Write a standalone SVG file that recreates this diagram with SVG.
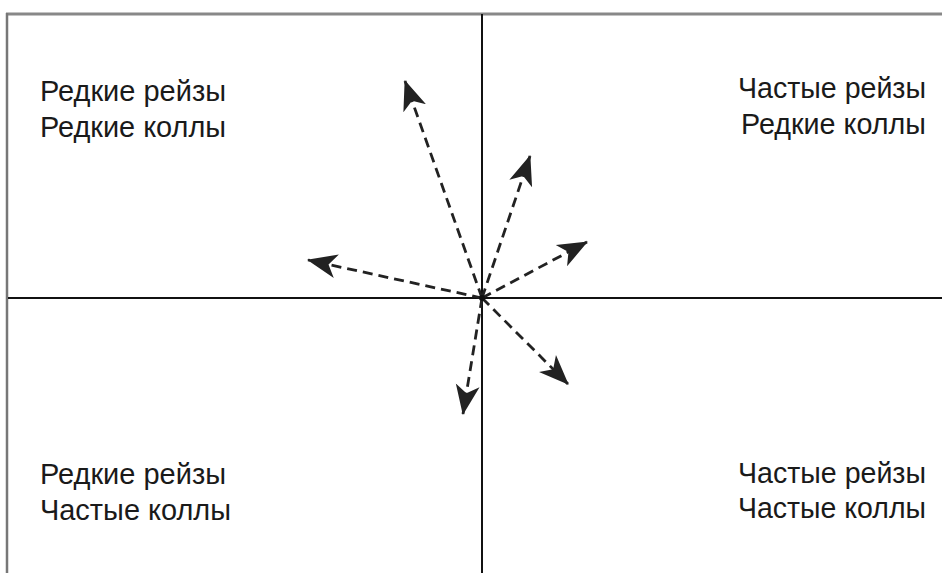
<svg xmlns="http://www.w3.org/2000/svg" width="942" height="573" viewBox="0 0 942 573">
<style>
.lbl{font-family:"Liberation Sans",Arial,sans-serif;font-size:29.5px;fill:#1a1a1a}
.r{text-anchor:end}
.ax{stroke:#111;stroke-width:2;fill:none}
.arr{stroke:#222;stroke-width:2.8;stroke-dasharray:10 6;fill:none;marker-end:url(#ah)}
</style>
<defs>
<marker id="ah" viewBox="0 0 30 26" refX="29" refY="13" markerWidth="30" markerHeight="26" markerUnits="userSpaceOnUse" orient="auto">
<path d="M0,1 L30,13 L0,25 L8,13 Z" fill="#222"/>
</marker>
</defs>
<rect width="942" height="573" fill="#fff"/>
<g id="frame">
<line x1="6" y1="14" x2="942" y2="14" stroke="#888" stroke-width="3"/>
<line x1="7" y1="13" x2="7" y2="573" stroke="#777" stroke-width="2.5"/>
</g>
<g id="axes">
<line class="ax" x1="482" y1="14" x2="482" y2="573"/>
<line class="ax" x1="8" y1="298" x2="942" y2="298"/>
</g>
<g id="connectors">
<line class="arr" x1="482" y1="298" x2="405" y2="81"/>
<line class="arr" x1="482" y1="298" x2="530" y2="156"/>
<line class="arr" x1="482" y1="298" x2="587" y2="242"/>
<line class="arr" x1="482" y1="298" x2="308" y2="260"/>
<line class="arr" x1="482" y1="298" x2="568" y2="384"/>
<line class="arr" x1="482" y1="298" x2="463" y2="414"/>
</g>
<circle cx="482" cy="298" r="3" fill="#111"/>
<g id="q1">
<text class="lbl" x="40" y="101" textLength="186" lengthAdjust="spacingAndGlyphs">Редкие рейзы</text>
<text class="lbl" x="40" y="137" textLength="186" lengthAdjust="spacingAndGlyphs">Редкие коллы</text>
</g>
<g id="q2">
<text class="lbl" x="738" y="98" textLength="188" lengthAdjust="spacingAndGlyphs">Частые рейзы</text>
<text class="lbl" x="741" y="134" textLength="185" lengthAdjust="spacingAndGlyphs">Редкие коллы</text>
</g>
<g id="q3">
<text class="lbl" x="40" y="484" textLength="186" lengthAdjust="spacingAndGlyphs">Редкие рейзы</text>
<text class="lbl" x="40" y="520" textLength="191" lengthAdjust="spacingAndGlyphs">Частые коллы</text>
</g>
<g id="q4">
<text class="lbl" x="738" y="483" textLength="188" lengthAdjust="spacingAndGlyphs">Частые рейзы</text>
<text class="lbl" x="738" y="518" textLength="188" lengthAdjust="spacingAndGlyphs">Частые коллы</text>
</g>
</svg>
